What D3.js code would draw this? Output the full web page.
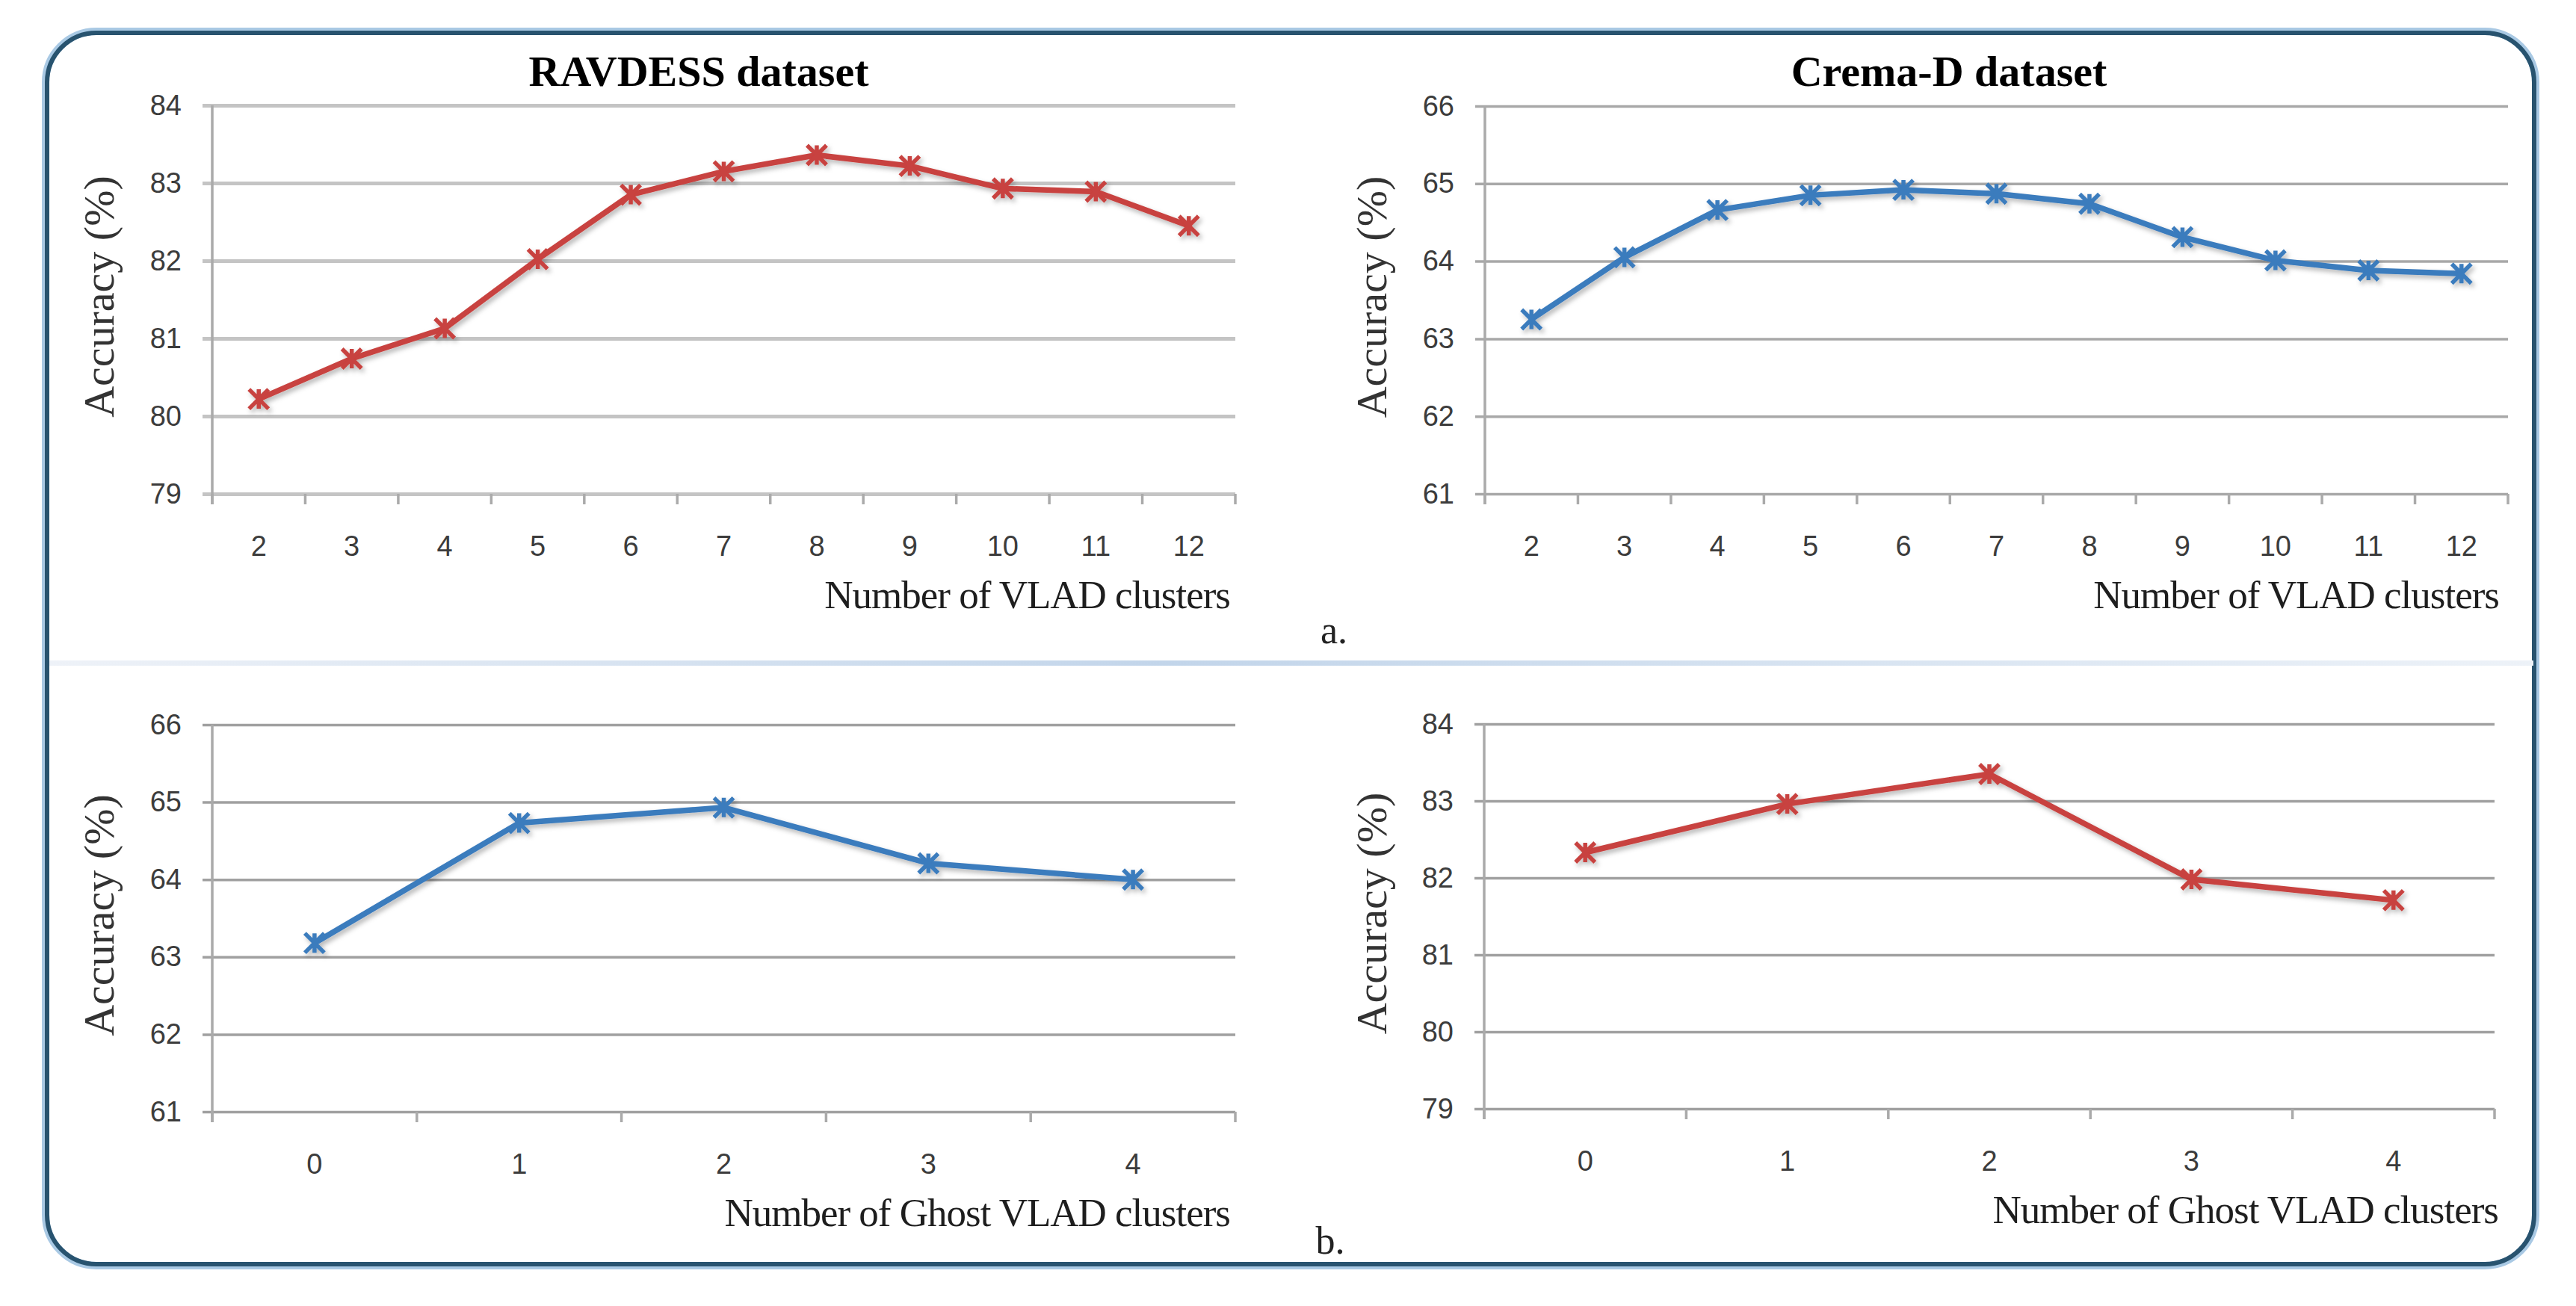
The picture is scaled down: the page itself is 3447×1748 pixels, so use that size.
<!DOCTYPE html>
<html>
<head>
<meta charset="utf-8">
<script src="https://cdn.jsdelivr.net/npm/d3@7"></script>
<style>
  body { margin: 0; background: #fff; }
  svg { display: block; }
</style>
</head>
<body>
<div id="container"></div>
<script>
// Data
const vladClusters = [2, 3, 4, 5, 6, 7, 8, 9, 10, 11, 12];
const ghostClusters = [0, 1, 2, 3, 4];
const ravdessVladAcc = [80.22, 80.74, 81.13, 82.02, 82.85, 83.15, 83.36, 83.22, 82.93, 82.89, 82.45];
const cremaVladAcc = [63.25, 64.05, 64.66, 64.85, 64.92, 64.87, 64.74, 64.31, 64.01, 63.88, 63.84];
const cremaGhostAcc = [63.18, 64.73, 64.93, 64.21, 64.00];
const ravdessGhostAcc = [82.33, 82.96, 83.35, 81.98, 81.71];
const ravdessTicks = [79, 80, 81, 82, 83, 84];
const cremaTicks = [61, 62, 63, 64, 65, 66];

const W = 3447, H = 1748;
const RED = '#c8423f', BLUE = '#3b7bbd';

const panels = [
  { title: 'RAVDESS dataset', titleX: 935, xTitle: 'Number of VLAD clusters', cats: vladClusters, values: ravdessVladAcc,
    ticks: ravdessTicks, color: RED, left: 284, right: 1653, top: 141, bottom: 661,
    grid: '#c4c4c4', gridW: 5, yLabelX: 152, xTitleRight: 1646 },
  { title: 'Crema-D dataset', titleX: 2608, xTitle: 'Number of VLAD clusters', cats: vladClusters, values: cremaVladAcc,
    ticks: cremaTicks, color: BLUE, left: 1987, right: 3356, top: 142, bottom: 661,
    grid: '#a8a8a8', gridW: 3.5, yLabelX: 1855, xTitleRight: 3344 },
  { title: null, xTitle: 'Number of Ghost VLAD clusters', cats: ghostClusters, values: cremaGhostAcc,
    ticks: cremaTicks, color: BLUE, left: 284, right: 1653, top: 970, bottom: 1488,
    grid: '#a0a0a0', gridW: 3.5, yLabelX: 152, xTitleRight: 1646 },
  { title: null, xTitle: 'Number of Ghost VLAD clusters', cats: ghostClusters, values: ravdessGhostAcc,
    ticks: ravdessTicks, color: RED, left: 1986, right: 3338, top: 969, bottom: 1484,
    grid: '#a0a0a0', gridW: 3.5, yLabelX: 1855, xTitleRight: 3343 }
];

const svg = d3.select('#container').append('svg')
  .attr('width', W).attr('height', H);

const defs = svg.append('defs');
const shadow = defs.append('filter').attr('id', 'shadow')
  .attr('x', '-5%').attr('y', '-20%').attr('width', '110%').attr('height', '140%');
shadow.append('feDropShadow').attr('dx', 3).attr('dy', 4).attr('stdDeviation', 3)
  .attr('flood-color', '#000').attr('flood-opacity', 0.28);

const sepGrad = defs.append('linearGradient').attr('id', 'sep');
sepGrad.append('stop').attr('offset', '0%').attr('stop-color', '#eef2f8');
sepGrad.append('stop').attr('offset', '45%').attr('stop-color', '#c2d5ea');
sepGrad.append('stop').attr('offset', '100%').attr('stop-color', '#edf2f8');

svg.append('rect').attr('width', W).attr('height', H).attr('fill', '#fff');

// Rounded frame
svg.append('rect')
  .attr('x', 61).attr('y', 42).attr('width', 3332).attr('height', 1652)
  .attr('rx', 68).attr('fill', 'none')
  .attr('stroke', '#a9c9e4').attr('stroke-width', 10);
svg.append('rect')
  .attr('x', 63).attr('y', 44).attr('width', 3328).attr('height', 1648)
  .attr('rx', 66).attr('fill', 'none')
  .attr('stroke', '#28536f').attr('stroke-width', 6);

// Separator between rows
svg.append('rect')
  .attr('x', 66).attr('y', 884).attr('width', 3324).attr('height', 7)
  .attr('fill', 'url(#sep)');

// Panel letters
svg.append('text').attr('x', 1785).attr('y', 861).attr('text-anchor', 'middle')
  .attr('font-family', 'Liberation Serif, Times New Roman, serif').attr('font-size', 52)
  .attr('fill', '#222').text('a.');
svg.append('text').attr('x', 1780).attr('y', 1678).attr('text-anchor', 'middle')
  .attr('font-family', 'Liberation Serif, Times New Roman, serif').attr('font-size', 52)
  .attr('fill', '#222').text('b.');

const starPath = s => `M${-s},${-s}L${s},${s}M${-s},${s}L${s},${-s}M0,${-s}L0,${s}`;

panels.forEach(p => {
  const g = svg.append('g');

  const x = d3.scaleBand().domain(p.cats).range([p.left, p.right]);
  const y = d3.scaleLinear().domain([p.ticks[0], p.ticks[p.ticks.length - 1]]).range([p.bottom, p.top]);
  const cx = c => x(c) + x.bandwidth() / 2;

  // gridlines + y axis
  const yAxis = d3.axisLeft(y).tickValues(p.ticks).tickSize(0).tickPadding(41).tickFormat(d3.format('d'));
  const yg = g.append('g').attr('transform', `translate(${p.left},0)`).call(yAxis);
  yg.select('.domain').remove();
  yg.selectAll('.tick text')
    .attr('font-family', 'Liberation Sans, Arial, sans-serif')
    .attr('font-size', 38).attr('fill', '#3c3c3c');
  yg.selectAll('.tick').append('line')
    .attr('x1', -13).attr('x2', p.right - p.left)
    .attr('stroke', p.grid).attr('stroke-width', p.gridW);

  // vertical axis line
  g.append('line')
    .attr('x1', p.left).attr('x2', p.left).attr('y1', p.top).attr('y2', p.bottom + 14)
    .attr('stroke', '#aaaaaa').attr('stroke-width', 3.5);

  // x ticks at category boundaries
  const bounds = p.cats.map(c => x(c)).concat([p.right]);
  g.selectAll('.xtick').data(bounds).enter().append('line')
    .attr('x1', d => d).attr('x2', d => d)
    .attr('y1', p.bottom).attr('y2', p.bottom + 14)
    .attr('stroke', '#aaaaaa').attr('stroke-width', 3.5);

  // x tick labels
  g.selectAll('.xlabel').data(p.cats).enter().append('text')
    .attr('x', d => cx(d)).attr('y', p.bottom + 70)
    .attr('text-anchor', 'middle').attr('dominant-baseline', 'central')
    .attr('font-family', 'Liberation Sans, Arial, sans-serif')
    .attr('font-size', 38).attr('fill', '#3c3c3c')
    .text(d => d);

  // series line
  const line = d3.line().x((d, i) => cx(p.cats[i])).y(d => y(d));
  const series = g.append('g').attr('filter', 'url(#shadow)');
  series.append('path').datum(p.values)
    .attr('d', line).attr('fill', 'none')
    .attr('stroke', p.color).attr('stroke-width', 7.5)
    .attr('stroke-linejoin', 'round').attr('stroke-linecap', 'round');
  series.selectAll('.marker').data(p.values).enter().append('path')
    .attr('transform', (d, i) => `translate(${cx(p.cats[i])},${y(d)})`)
    .attr('d', starPath(13))
    .attr('fill', 'none').attr('stroke', p.color).attr('stroke-width', 5.5);

  // chart title
  if (p.title) {
    g.append('text')
      .attr('x', p.titleX).attr('y', 115)
      .attr('text-anchor', 'middle')
      .attr('font-family', 'Liberation Serif, Times New Roman, serif')
      .attr('font-weight', 'bold').attr('font-size', 58).attr('fill', '#000')
      .text(p.title);
  }

  // x axis title
  g.append('text')
    .attr('x', p.xTitleRight).attr('y', p.bottom + 153)
    .attr('text-anchor', 'end')
    .attr('font-family', 'Liberation Serif, Times New Roman, serif')
    .attr('font-size', 53).attr('letter-spacing', -1).attr('fill', '#1e1e1e')
    .text(p.xTitle);

  // y axis title
  g.append('text')
    .attr('transform', `translate(${p.yLabelX},${(p.top + p.bottom) / 2 - 4}) rotate(-90)`)
    .attr('text-anchor', 'middle')
    .attr('font-family', 'Liberation Serif, Times New Roman, serif')
    .attr('font-size', 58).attr('fill', '#333')
    .text('Accuracy (%)');
});
</script>
</body>
</html>
